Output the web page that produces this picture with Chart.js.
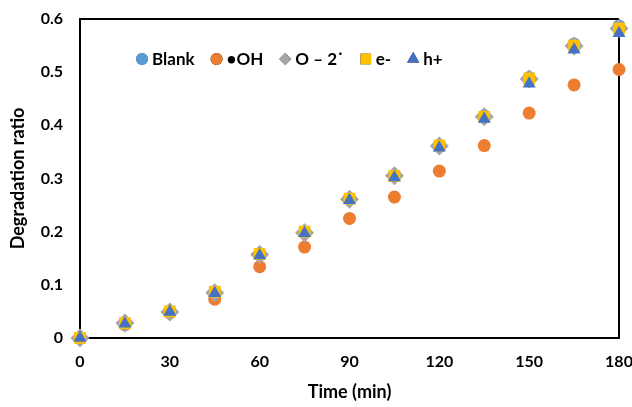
<!DOCTYPE html>
<html>
<head>
<meta charset="utf-8">
<script src="https://cdn.jsdelivr.net/npm/chart.js@4.4.1/dist/chart.umd.min.js"></script>
<style>
  html, body { margin: 0; padding: 0; background: #ffffff; }
  #wrap { width: 632px; height: 407px; }
</style>
</head>
<body>
<div id="wrap"><canvas id="c" width="632" height="407"></canvas></div>
<script>
const times   = [0, 15, 30, 45, 60, 75, 90, 105, 120, 135, 150, 165, 180];
const blank   = [0, 0.028, 0.050, 0.086, 0.158, 0.200, 0.262, 0.306, 0.362, 0.418, 0.490, 0.553, 0.587];
const ohRad   = [0, 0.025, 0.047, 0.073, 0.134, 0.171, 0.225, 0.265, 0.314, 0.362, 0.423, 0.476, 0.505];
const superox = [0, 0.028, 0.049, 0.085, 0.157, 0.198, 0.261, 0.305, 0.361, 0.416, 0.487, 0.549, 0.582];
const elec    = [0, 0.028, 0.050, 0.087, 0.158, 0.200, 0.262, 0.305, 0.362, 0.416, 0.488, 0.550, 0.582];
const holes   = [0, 0.027, 0.049, 0.084, 0.155, 0.197, 0.259, 0.302, 0.358, 0.412, 0.478, 0.542, 0.573];
const seriesLabels = ['Blank', '\u2022OH', 'O \u2013 2\u02D9', 'e-', 'h+'];
const xTicks = [0, 30, 60, 90, 120, 150, 180];
const yTicks = [0, 0.1, 0.2, 0.3, 0.4, 0.5, 0.6];

const FONT = 'Lato, "Open Sans", sans-serif';
const pts = arr => arr.map((v, i) => ({ x: times[i], y: v }));

const styles = [
  { color: '#5B9BD5', pointStyle: 'circle',   radius: 6.5, order: 5, legendR: 6 },
  { color: '#ED7D31', pointStyle: 'circle',   radius: 6.5, order: 4, legendR: 6 },
  { color: '#A5A5A5', pointStyle: 'rectRot',  radius: 9.5, order: 3, legendR: 6 },
  { color: '#FFC000', pointStyle: 'rect',     radius: 8.3, order: 2, legendR: 7.5 },
  { color: '#4472C4', pointStyle: 'triangle', radius: 7.5, order: 1, legendR: 7 }
];
const values = [blank, ohRad, superox, elec, holes];

const datasets = values.map((arr, i) => ({
  label: seriesLabels[i],
  data: pts(arr),
  backgroundColor: styles[i].color,
  borderColor: styles[i].color,
  borderWidth: 0,
  pointStyle: styles[i].pointStyle,
  pointRadius: styles[i].radius,
  pointHoverRadius: styles[i].radius,
  showLine: false,
  order: styles[i].order,
  clip: false
}));

const insideLegend = {
  id: 'insideLegend',
  afterDatasetsDraw(chart) {
    const ctx = chart.ctx;
    const y = 59;
    let x = 142;
    ctx.save();
    ctx.font = 'bold 17px ' + FONT;
    ctx.textBaseline = 'middle';
    ctx.textAlign = 'left';
    chart.data.datasets.forEach((ds, i) => {
      Chart.helpers.drawPoint(ctx, {
        pointStyle: ds.pointStyle,
        radius: styles[i].legendR,
        rotation: 0,
        borderWidth: 0
      }, x, y);
      ctx.fillStyle = ds.backgroundColor;
      ctx.fill();
      ctx.fillStyle = '#000000';
      ctx.fillText(ds.label, x + 10, y + 1);
      x += 10 + ctx.measureText(ds.label).width + 22;
    });
    ctx.restore();
  }
};

const noPad = s => { s.paddingLeft = 0; s.paddingRight = 0; s.paddingTop = 0; s.paddingBottom = 0; };
// Grid lines only at the first and last tick -> they form the black plot frame
const edgeGrid = (first, last) => ({
  display: true,
  drawTicks: false,
  lineWidth: 2,
  color: c => (c.tick && (c.tick.value === first || c.tick.value === last)) ? '#000000' : 'rgba(0,0,0,0)'
});

new Chart(document.getElementById('c'), {
  type: 'scatter',
  data: { datasets },
  options: {
    responsive: false,
    animation: false,
    devicePixelRatio: 1,
    layout: { padding: { top: 19, right: 13, left: 0, bottom: 0 } },
    plugins: {
      legend: { display: false },
      tooltip: { enabled: false }
    },
    scales: {
      x: {
        type: 'linear',
        position: 'bottom',
        min: 0, max: 180,
        afterBuildTicks: s => { s.ticks = xTicks.map(v => ({ value: v })); },
        afterFit: s => { s.height = 69; noPad(s); },
        grid: edgeGrid(0, 180),
        border: { display: true, color: '#000000', width: 2 },
        ticks: { padding: 14, color: '#000', font: { family: FONT, size: 16, weight: 'bold' } },
        title: { display: true, text: 'Time (min)', color: '#000', padding: { top: 0, bottom: 4 },
                 font: { family: FONT, size: 18, weight: 'bold' } }
      },
      y: {
        type: 'linear',
        position: 'left',
        min: 0, max: 0.6,
        afterBuildTicks: s => { s.ticks = yTicks.map(v => ({ value: v })); },
        afterFit: s => { s.width = 80; noPad(s); },
        grid: edgeGrid(0, 0.6),
        border: { display: true, color: '#000000', width: 2 },
        ticks: { padding: 17, color: '#000', font: { family: FONT, size: 16, weight: 'bold' } },
        title: { display: true, text: 'Degradation ratio', color: '#000', padding: { top: 7, bottom: 0 },
                 font: { family: FONT, size: 18, weight: 'bold' } }
      }
    }
  },
  plugins: [insideLegend]
});
</script>
</body>
</html>
